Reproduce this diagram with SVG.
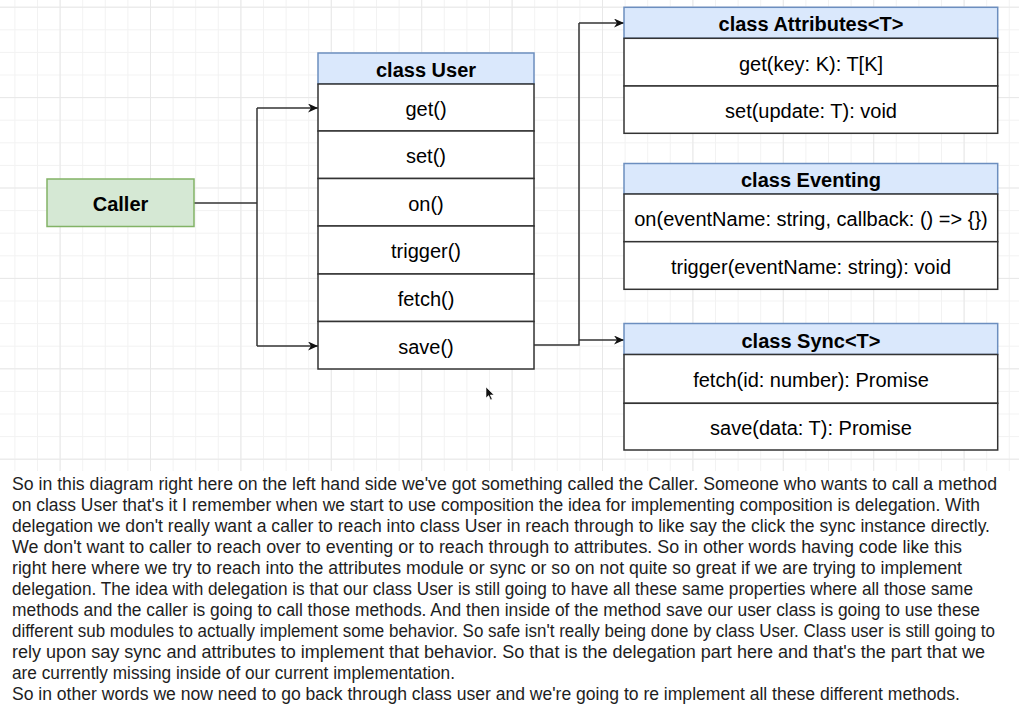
<svg xmlns="http://www.w3.org/2000/svg" width="1019" height="724" viewBox="0 0 1019 724">
<defs>
<pattern id="gMinor" x="14.4" y="6.7" width="22.6" height="22.6" patternUnits="userSpaceOnUse">
<path d="M0.5,0 V22.6 M0,0.5 H22.6" fill="none" stroke="#f2f2f2" stroke-width="1"/>
</pattern>
<pattern id="gMajor" x="150" y="6.7" width="90.4" height="90.4" patternUnits="userSpaceOnUse">
<path d="M0.5,0 V90.4 M0,0.5 H90.4" fill="none" stroke="#e8e8e8" stroke-width="1"/>
</pattern>
<marker id="arr" markerUnits="userSpaceOnUse" markerWidth="11" markerHeight="9" refX="10" refY="4.5" orient="auto">
<path d="M0,0 L10,4.5 L0,9 L3,4.5 z" fill="#111"/>
</marker>
</defs>
<style>
.hdr{fill:#dae8fc;stroke:#6c8ebf;stroke-width:1.5}
.row{fill:#ffffff;stroke:#333333;stroke-width:1.5}
.t{font-family:"Liberation Sans",Arial,sans-serif;font-size:20px;fill:#000;text-anchor:middle}
.b{font-weight:bold}
.con{fill:none;stroke:#333333;stroke-width:1.5}
.p{font-family:"Liberation Sans",Arial,sans-serif;font-size:17.5px;fill:#1e1e1e}
</style>
<rect x="0" y="0" width="1019" height="724" fill="#ffffff"/>
<rect x="0" y="0" width="1019" height="471" fill="url(#gMinor)"/>
<rect x="0" y="0" width="1019" height="471" fill="url(#gMajor)"/>

<g id="connectors">
<path class="con" d="M194,203 H257"/>
<path class="con" d="M257,108 V346"/>
<path class="con" d="M257,108 H318" marker-end="url(#arr)"/>
<path class="con" d="M257,346 H318" marker-end="url(#arr)"/>
<path class="con" d="M534,345 H579 V23"/>
<path class="con" d="M579,23 H624" marker-end="url(#arr)"/>
<path class="con" d="M579,340 H624" marker-end="url(#arr)"/>
</g>

<g id="caller">
<rect x="47" y="179" width="147" height="47.5" fill="#d5e8d4" stroke="#82b366" stroke-width="1.5"/>
<text class="t b" x="120.5" y="211">Caller</text>
</g>

<g id="user">
<rect class="hdr" x="318" y="53" width="216" height="31"/>
<rect class="row" x="318" y="84" width="216" height="47"/>
<rect class="row" x="318" y="131" width="216" height="47.5"/>
<rect class="row" x="318" y="178.5" width="216" height="47.5"/>
<rect class="row" x="318" y="226" width="216" height="48"/>
<rect class="row" x="318" y="274" width="216" height="47.5"/>
<rect class="row" x="318" y="321.5" width="216" height="47.5"/>
<text class="t b" x="426" y="76.5">class User</text>
<text class="t" x="426" y="115.5">get()</text>
<text class="t" x="426" y="163">set()</text>
<text class="t" x="426" y="210.5">on()</text>
<text class="t" x="426" y="258">trigger()</text>
<text class="t" x="426" y="306">fetch()</text>
<text class="t" x="426" y="353.5">save()</text>
</g>

<g id="attributes">
<rect class="hdr" x="624" y="7.3" width="373.7" height="31"/>
<rect class="row" x="624" y="38.3" width="373.7" height="47.7"/>
<rect class="row" x="624" y="86" width="373.7" height="47.3"/>
<text class="t b" x="811" y="31">class Attributes&lt;T&gt;</text>
<text class="t" x="811" y="70.5">get(key: K): T[K]</text>
<text class="t" x="811" y="118">set(update: T): void</text>
</g>

<g id="eventing">
<rect class="hdr" x="624" y="163.5" width="373.7" height="30.5"/>
<rect class="row" x="624" y="194" width="373.7" height="47.7"/>
<rect class="row" x="624" y="241.7" width="373.7" height="47.6"/>
<text class="t b" x="811" y="187">class Eventing</text>
<text class="t" x="811" y="226">on(eventName: string, callback: () =&gt; {})</text>
<text class="t" x="811" y="273.5">trigger(eventName: string): void</text>
</g>

<g id="sync">
<rect class="hdr" x="624" y="323.5" width="373.7" height="31"/>
<rect class="row" x="624" y="354.5" width="373.7" height="48.8"/>
<rect class="row" x="624" y="403.3" width="373.7" height="46.7"/>
<text class="t b" x="811" y="347.5">class Sync&lt;T&gt;</text>
<text class="t" x="811" y="387">fetch(id: number): Promise</text>
<text class="t" x="811" y="435">save(data: T): Promise</text>
</g>

<g id="cursor">
<path d="M486,387 L486,398 L488.6,395.6 L490.6,400 L492.2,399.2 L490.3,395 L494,395 Z" fill="#111" stroke="#fff" stroke-width="0.6"/>
</g>

<g id="transcript">
<text class="p" x="12" y="490" textLength="985" lengthAdjust="spacingAndGlyphs">So in this diagram right here on the left hand side we've got something called the Caller. Someone who wants to call a method</text>
<text class="p" x="12" y="511" textLength="968" lengthAdjust="spacingAndGlyphs">on class User that's it I remember when we start to use composition the idea for implementing composition is delegation. With</text>
<text class="p" x="12" y="532" textLength="978" lengthAdjust="spacingAndGlyphs">delegation we don't really want a caller to reach into class User in reach through to like say the click the sync instance directly.</text>
<text class="p" x="12" y="553" textLength="950" lengthAdjust="spacingAndGlyphs">We don't want to caller to reach over to eventing or to reach through to attributes. So in other words having code like this</text>
<text class="p" x="12" y="574" textLength="950" lengthAdjust="spacingAndGlyphs">right here where we try to reach into the attributes module or sync or so on not quite so great if we are trying to implement</text>
<text class="p" x="12" y="595" textLength="961" lengthAdjust="spacingAndGlyphs">delegation. The idea with delegation is that our class User is still going to have all these same properties where all those same</text>
<text class="p" x="12" y="616" textLength="968" lengthAdjust="spacingAndGlyphs">methods and the caller is going to call those methods. And then inside of the method save our user class is going to use these</text>
<text class="p" x="12" y="637" textLength="983" lengthAdjust="spacingAndGlyphs">different sub modules to actually implement some behavior. So safe isn't really being done by class User. Class user is still going to</text>
<text class="p" x="12" y="658" textLength="973" lengthAdjust="spacingAndGlyphs">rely upon say sync and attributes to implement that behavior. So that is the delegation part here and that's the part that we</text>
<text class="p" x="12" y="679" textLength="443" lengthAdjust="spacingAndGlyphs">are currently missing inside of our current implementation.</text>
<text class="p" x="12" y="700" textLength="948" lengthAdjust="spacingAndGlyphs">So in other words we now need to go back through class user and we're going to re implement all these different methods.</text>
</g>
</svg>
